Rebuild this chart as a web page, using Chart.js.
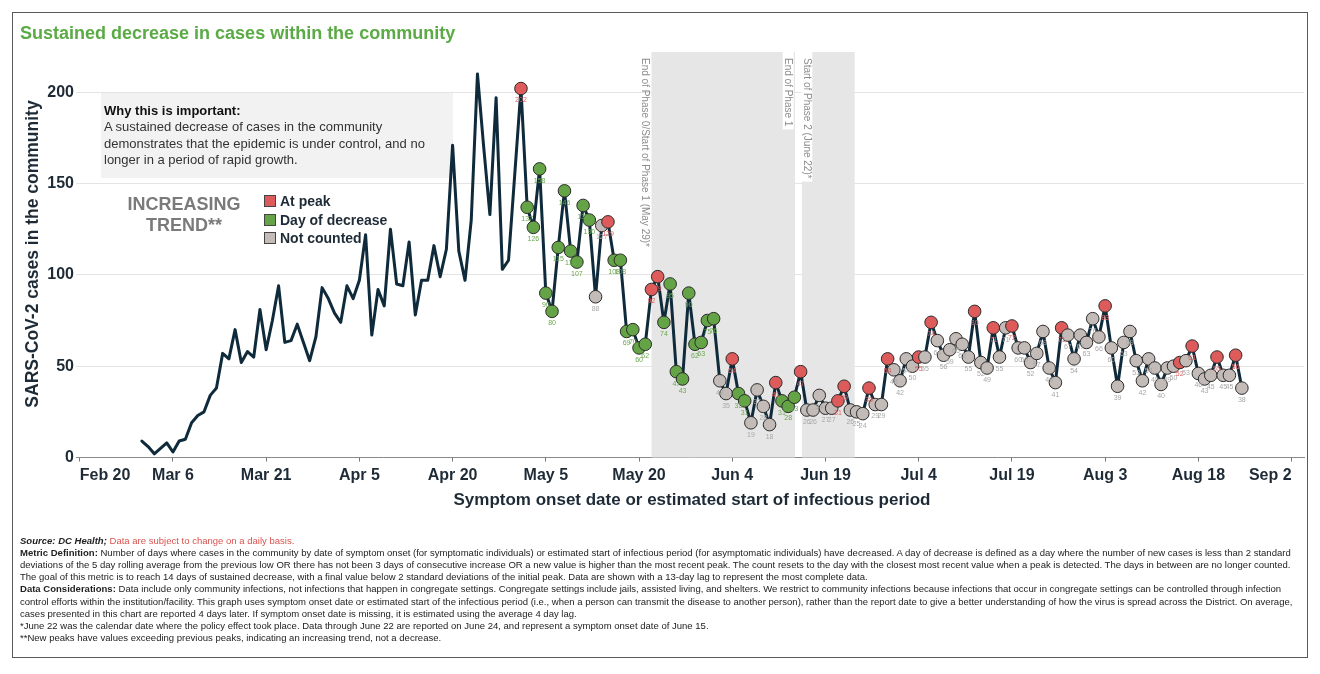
<!DOCTYPE html>
<html>
<head>
<meta charset="utf-8">
<title>Sustained decrease in cases within the community</title>
<script src="https://cdn.jsdelivr.net/npm/chart.js@4.4.1/dist/chart.umd.min.js"></script>
<style>
    html, body { margin: 0; padding: 0; background: #fff; }
    body { font-family: 'Liberation Sans', Arial, sans-serif; color: #1e2b36; }
    #wrap { position: relative; width: 1320px; height: 674px; overflow: hidden; }
    #statsChart { position: absolute; left: 0; top: 0; }
    .frame { position: absolute; left: 12px; top: 12px; width: 1296px; height: 646px; border: 1px solid #5a5a5a; box-sizing: border-box; pointer-events: none; }
    .title { position: absolute; left: 20px; top: 24px; font-weight: bold; font-size: 18px; line-height: 18px; color: #5aab45; white-space: nowrap; }
    .why { position: absolute; left: 104px; top: 102.5px; font-size: 13px; line-height: 16.5px; color: #333; white-space: nowrap; }
    .why b { color: #111; }
    .trend { position: absolute; left: 124px; width: 120px; top: 194px; text-align: center; font-weight: bold; font-size: 18px; line-height: 21px; color: #7a7a7a; }
    .legend-row { position: absolute; left: 264px; height: 16px; line-height: 16px; font-size: 14px; font-weight: bold; color: #1e2b36; white-space: nowrap; }
    .legend-row i { position: absolute; left: 0; top: 2px; width: 10px; height: 10px; border: 1px solid #444; }
    .legend-row span { position: absolute; left: 16px; top: 0; }
    .ytitle { position: absolute; left: 32px; top: 254px; transform: translate(-50%, -50%) rotate(-90deg); font-weight: bold; font-size: 17.5px; white-space: nowrap; }
    .xtitle { position: absolute; left: 692px; top: 500px; transform: translate(-50%, -50%); font-weight: bold; font-size: 17px; white-space: nowrap; }
    .notes { position: absolute; left: 20px; top: 534.6px; font-size: 9.5px; line-height: 12.2px; color: #222; white-space: nowrap; transform-origin: 0 0; }
    .notes .red { color: #d9534f; }
</style>
</head>
<body>
<div id="wrap">
    <canvas id="statsChart" width="1320" height="674"></canvas>
    <div class="frame"></div>
    <div class="title">Sustained decrease in cases within the community</div>
    <div class="why"><b>Why this is important:</b><br>A sustained decrease of cases in the community<br>demonstrates that the epidemic is under control, and no<br>longer in a period of rapid growth.</div>
    <div class="trend">INCREASING<br>TREND**</div>
    <div class="legend-row" style="top:193px"><i style="background:#de5b5b"></i><span>At peak</span></div>
    <div class="legend-row" style="top:211.5px"><i style="background:#64a447"></i><span>Day of decrease</span></div>
    <div class="legend-row" style="top:230px"><i style="background:#c2bbb7"></i><span>Not counted</span></div>
    <div class="ytitle">SARS-CoV-2 cases in the community</div>
    <div class="xtitle">Symptom onset date or estimated start of infectious period</div>
    <div class="notes" id="notes">
        <div><b><i>Source: DC Health;</i></b> <span class="red">Data are subject to change on a daily basis.</span></div>
        <div id="longLine"><b>Metric Definition:</b> Number of days where cases in the community by date of symptom onset (for symptomatic individuals) or estimated start of infectious period (for asymptomatic individuals) have decreased. A day of decrease is defined as a day where the number of new cases is less than 2 standard</div>
        <div>deviations of the 5 day rolling average from the previous low OR there has not been 3 days of consecutive increase OR a new value is higher than the most recent peak. The count resets to the day with the closest most recent value when a peak is detected. The days in between are no longer counted.</div>
        <div>The goal of this metric is to reach 14 days of sustained decrease, with a final value below 2 standard deviations of the initial peak. Data are shown with a 13-day lag to represent the most complete data.</div>
        <div><b>Data Considerations:</b> Data include only community infections, not infections that happen in congregate settings. Congregate settings include jails, assisted living, and shelters. We restrict to community infections because infections that occur in congregate settings can be controlled through infection</div>
        <div>control efforts within the institution/facility. This graph uses symptom onset date or estimated start of the infectious period (i.e., when a person can transmit the disease to another person), rather than the report date to give a better understanding of how the virus is spread across the District. On average,</div>
        <div>cases presented in this chart are reported 4 days later. If symptom onset date is missing, it is estimated using the average 4 day lag.</div>
        <div>*June 22 was the calendar date where the policy effect took place. Data through June 22 are reported on June 24, and represent a symptom onset date of June 15.</div>
        <div>**New peaks have values exceeding previous peaks, indicating an increasing trend, not a decrease.</div>
    </div>
</div>
<script>
// days are counted from Feb 20 (day 0)
const tickDays = [0, 15, 30, 45, 60, 75, 90, 105, 120, 135, 150, 165, 180, 195];
const tickLabels = ['Feb 20', 'Mar 6', 'Mar 21', 'Apr 5', 'Apr 20', 'May 5', 'May 20', 'Jun 4', 'Jun 19', 'Jul 4', 'Jul 19', 'Aug 3', 'Aug 18', 'Sep 2'];
const yTicks = [0, 50, 100, 150, 200];

// first value is Mar 1 (day 10)
const firstDay = 10;
const cases = [
    9, 6, 2, 5, 8, 3, 9, 10, 19, 23,
    25, 34, 38, 57, 54, 70, 52, 58, 55, 81,
    59, 75, 94, 63, 64, 73, 63, 53, 66, 93,
    87, 79, 74, 94, 87, 97, 122, 67, 92, 83,
    125, 95, 94, 118, 78, 97, 97, 116, 99, 114,
    171, 113, 97, 130, 210, 170, 133, 197, 103, 108,
    155, 202, 137, 126, 158, 90, 80, 115, 146, 113,
    107, 138, 130, 88, 127, 129, 108, 108, 69, 70,
    60, 62, 92, 99, 74, 95, 47, 43, 90, 62,
    63, 75, 76, 42, 35, 54, 35, 31, 19, 37,
    28, 18, 41, 31, 28, 33, 47, 26, 26, 34,
    27, 27, 31, 39, 26, 25, 24, 38, 29, 29,
    54, 48, 42, 54, 50, 55, 55, 74, 64, 56,
    59, 65, 62, 55, 80, 52, 49, 71, 55, 71,
    72, 60, 60, 52, 57, 69, 49, 41, 71, 67,
    54, 67, 63, 76, 66, 83, 60, 39, 63, 69,
    53, 42, 54, 49, 40, 49, 50, 52, 53, 61,
    46, 43, 45, 55, 45, 45, 56, 38
];

// P = at peak, D = day of decrease, N = not counted; starts May 1 (day 71)
const statusStart = 71;
const status = ('P DDDDDDDDDDD NN P DDDDDD PP DDDDDDDDD NN P DD NNNN P DDD P NNNNN PP NNN P NN P NNNN P N P ' +
    'NNNNNN P NN P NN P NNNNNNN P NNNNNN P NNNNNNNNNNN P N P NNN P NN P N').replace(/ /g, '').split('');

// shaded phase periods, in days
const phaseBands = [[92, 115.1], [116.2, 124.7]];
const phaseNotes = [
    { day: 90.9, text: 'End of Phase 0/Start of Phase 1 (May 29)*', box: false },
    { day: 114.0, text: 'End of Phase 1', box: true },
    { day: 117.0, text: 'Start of Phase 2 (June 22)*', box: true }
];

const markerFill = { P: '#de5b5b', D: '#64a447', N: '#c2bbb7' };
const labelFill = { P: '#e06060', D: '#6aa84f', N: '#a8a8a8' };

function markerOf(i) {
    const k = firstDay + i - statusStart;
    return k >= 0 ? status[k] : null;
}

const points = cases.map((v, i) => ({ x: firstDay + i, y: v }));

const decorPlugin = {
    id: 'decor',
    beforeDatasetsDraw(chart) {
        const { ctx, chartArea, scales: { x } } = chart;
        ctx.save();
        ctx.fillStyle = '#e6e6e6';
        phaseBands.forEach(([a, b]) => {
            const x0 = x.getPixelForValue(a);
            const x1 = x.getPixelForValue(b);
            ctx.fillRect(x0, chartArea.top, x1 - x0, chartArea.bottom - chartArea.top);
        });
        // background of the "Why this is important" note
        ctx.fillStyle = '#f2f2f2';
        ctx.fillRect(101, 93, 352, 85);
        ctx.font = '10px "Liberation Sans", Arial, sans-serif';
        phaseNotes.forEach(n => {
            const px = x.getPixelForValue(n.day);
            ctx.save();
            ctx.translate(px, chartArea.top + 6);
            ctx.rotate(Math.PI / 2);
            const w = ctx.measureText(n.text).width;
            if (n.box) {
                ctx.fillStyle = '#fff';
                ctx.fillRect(-6, -5.5, w + 9, 11);
            }
            ctx.fillStyle = '#8c8c8c';
            ctx.textBaseline = 'middle';
            ctx.fillText(n.text, 0, 0);
            ctx.restore();
        });
        ctx.restore();
    },
    afterDatasetsDraw(chart) {
        const { ctx } = chart;
        const meta = chart.getDatasetMeta(0);
        ctx.save();
        ctx.font = '7px "Liberation Sans", Arial, sans-serif';
        ctx.textAlign = 'center';
        ctx.textBaseline = 'middle';
        meta.data.forEach((pt, i) => {
            const s = markerOf(i);
            if (!s) return;
            ctx.fillStyle = labelFill[s];
            ctx.fillText(String(cases[i]), pt.x, pt.y + 12);
        });
        ctx.restore();
    }
};

document.addEventListener('DOMContentLoaded', function() {
    const ctx = document.getElementById('statsChart').getContext('2d');
    const tickFont = { family: "'Liberation Sans', Arial, sans-serif", size: 16, weight: 'bold' };

    new Chart(ctx, {
        type: 'line',
        data: {
            datasets: [{
                data: points,
                borderColor: '#0e2a3b',
                borderWidth: 3,
                borderJoinStyle: 'round',
                borderCapStyle: 'round',
                tension: 0,
                fill: false,
                pointRadius: c => markerOf(c.dataIndex) ? 6.3 : 0,
                pointHoverRadius: c => markerOf(c.dataIndex) ? 6.3 : 0,
                pointBackgroundColor: c => markerFill[markerOf(c.dataIndex)] || 'rgba(0,0,0,0)',
                pointBorderColor: '#2b2b2b',
                pointBorderWidth: 1
            }]
        },
        options: {
            responsive: false,
            animation: false,
            layout: { padding: { left: 0, top: 52, right: 16, bottom: 176.5 } },
            plugins: {
                legend: { display: false },
                tooltip: { enabled: false }
            },
            scales: {
                x: {
                    type: 'linear',
                    min: -0.6,
                    max: 197,
                    afterBuildTicks: s => { s.ticks = tickDays.map(v => ({ value: v })); },
                    afterFit: s => { s.height = 40; },
                    border: { display: true, color: '#8a8a8a', width: 1, dash: [1, 3] },
                    grid: { drawOnChartArea: false, drawTicks: true, tickLength: 4, color: '#777' },
                    ticks: {
                        align: 'inner',
                        padding: 4,
                        maxRotation: 0,
                        color: '#1e2b36',
                        font: tickFont,
                        callback: v => tickLabels[tickDays.indexOf(v)]
                    }
                },
                y: {
                    min: 0,
                    max: 222,
                    afterBuildTicks: s => { s.ticks = yTicks.map(v => ({ value: v })); },
                    afterFit: s => { s.width = 76; },
                    border: { display: false },
                    grid: {
                        drawTicks: false,
                        color: c => (c.tick && c.tick.value === 0) ? 'rgba(0,0,0,0)' : '#e4e4e4'
                    },
                    ticks: { padding: 2, color: '#1e2b36', font: tickFont }
                }
            }
        },
        plugins: [decorPlugin]
    });

    // squeeze the footnotes to the width used in the original layout
    const notes = document.getElementById('notes');
    const w = document.getElementById('longLine').scrollWidth;
    if (w > 0) {
        notes.style.transform = 'scaleX(' + (1272 / w) + ')';
    }
});
</script>
</body>
</html>
